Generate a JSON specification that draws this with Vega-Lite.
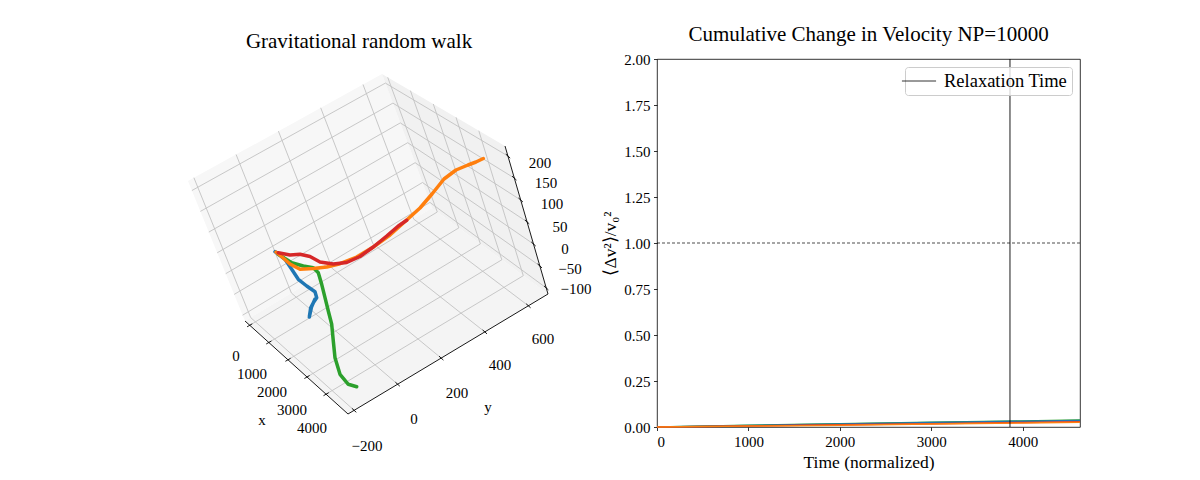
{
  "$schema": "https://vega.github.io/schema/vega-lite/v6.json",
  "background": "white",
  "padding": {"left": 120, "top": 23, "right": 0, "bottom": 0},
  "spacing": 3,
  "config": {
    "font": "Liberation Serif",
    "title": {"fontSize": 21, "fontWeight": "normal", "color": "black", "offset": 7, "frame": "group", "anchor": "middle"},
    "axis": {
      "labelFontSize": 15, "titleFontSize": 17.5, "titleFontWeight": "normal",
      "labelColor": "black", "titleColor": "black", "tickColor": "black",
      "tickSize": 3.5, "tickWidth": 0.8, "grid": false, "domain": false,
      "labelPadding": 3.5, "titlePadding": 4
    },
    "legend": {
      "orient": "top-right", "offset": 8, "padding": 4, "cornerRadius": 3,
      "fillColor": "rgba(255,255,255,0.8)", "strokeColor": "#cccccc",
      "labelFontSize": 18.5, "labelColor": "black", "labelOffset": 15,
      "symbolType": "M-1.8,0H1.8", "symbolSize": 360, "symbolStrokeWidth": 0.8
    }
  },
  "datasets": {
    "panes": [
      {"pane": "left", "sx": 188, "sy": 180, "sy2": 180},
      {"pane": "left", "sx": 245, "sy": 148.6, "sy2": 320},
      {"pane": "left", "sx": 382, "sy": 73, "sy2": 237.2},
      {"pane": "left", "sx": 432, "sy": 207, "sy2": 207},
      {"pane": "floor", "sx": 245, "sy": 320, "sy2": 320},
      {"pane": "floor", "sx": 348, "sy": 257.8, "sy2": 413},
      {"pane": "floor", "sx": 432, "sy": 207, "sy2": 362.6},
      {"pane": "floor", "sx": 548, "sy": 293, "sy2": 293},
      {"pane": "right", "sx": 382, "sy": 73, "sy2": 73},
      {"pane": "right", "sx": 432, "sy": 102.3, "sy2": 207},
      {"pane": "right", "sx": 505, "sy": 145, "sy2": 261.1},
      {"pane": "right", "sx": 548, "sy": 293, "sy2": 293}
    ],
    "grid": [
      {"sx": 249.7, "sy": 324.3, "sx2": 437.3, "sy2": 211.0},
      {"sx": 268.8, "sy": 341.5, "sx2": 458.8, "sy2": 226.9},
      {"sx": 288.0, "sy": 358.8, "sx2": 480.4, "sy2": 242.9},
      {"sx": 307.0, "sy": 376.0, "sx2": 501.8, "sy2": 258.8},
      {"sx": 326.1, "sy": 393.2, "sx2": 523.3, "sy2": 274.7},
      {"sx": 250.7, "sy": 316.6, "sx2": 354.1, "sy2": 409.3},
      {"sx": 291.4, "sy": 292.0, "sx2": 397.6, "sy2": 383.2},
      {"sx": 332.1, "sy": 267.3, "sx2": 441.2, "sy2": 357.1},
      {"sx": 372.9, "sy": 242.7, "sx2": 484.8, "sy2": 330.9},
      {"sx": 413.7, "sy": 218.1, "sx2": 528.4, "sy2": 304.8},
      {"sx": 250.7, "sy": 316.6, "sx2": 193.9, "sy2": 176.7},
      {"sx": 291.4, "sy": 292.0, "sx2": 236.1, "sy2": 153.5},
      {"sx": 332.1, "sy": 267.3, "sx2": 278.4, "sy2": 130.1},
      {"sx": 372.9, "sy": 242.7, "sx2": 320.7, "sy2": 106.8},
      {"sx": 413.7, "sy": 218.1, "sx2": 363.0, "sy2": 83.5},
      {"sx": 242.6, "sy": 314.2, "sx2": 429.9, "sy2": 201.4},
      {"sx": 234.2, "sy": 293.4, "sx2": 422.5, "sy2": 181.5},
      {"sx": 225.7, "sy": 272.7, "sx2": 415.1, "sy2": 161.7},
      {"sx": 217.2, "sy": 251.8, "sx2": 407.7, "sy2": 141.7},
      {"sx": 208.8, "sy": 231.1, "sx2": 400.3, "sy2": 121.9},
      {"sx": 200.4, "sy": 210.4, "sx2": 392.9, "sy2": 102.1},
      {"sx": 191.9, "sy": 189.5, "sx2": 385.4, "sy2": 82.1},
      {"sx": 437.3, "sy": 211.0, "sx2": 387.7, "sy2": 76.3},
      {"sx": 458.8, "sy": 226.9, "sx2": 410.4, "sy2": 89.6},
      {"sx": 480.4, "sy": 242.9, "sx2": 433.3, "sy2": 103.0},
      {"sx": 501.8, "sy": 258.8, "sx2": 456.0, "sy2": 116.3},
      {"sx": 523.3, "sy": 274.7, "sx2": 478.8, "sy2": 129.7},
      {"sx": 429.9, "sy": 201.4, "sx2": 546.2, "sy2": 286.9},
      {"sx": 422.5, "sy": 181.5, "sx2": 539.8, "sy2": 264.9},
      {"sx": 415.1, "sy": 161.7, "sx2": 533.5, "sy2": 243.0},
      {"sx": 407.7, "sy": 141.7, "sx2": 527.1, "sy2": 220.9},
      {"sx": 400.3, "sy": 121.9, "sx2": 520.7, "sy2": 199.0},
      {"sx": 392.9, "sy": 102.1, "sx2": 514.3, "sy2": 177.1},
      {"sx": 385.4, "sy": 82.1, "sx2": 508.0, "sy2": 155.1}
    ],
    "axes3d": [
      {"sx": 245, "sy": 320, "sx2": 348, "sy2": 413},
      {"sx": 348, "sy": 413, "sx2": 548, "sy2": 293},
      {"sx": 548, "sy": 293, "sx2": 505, "sy2": 145},
      {"sx": 247.1, "sy": 325.8, "sx2": 252.3, "sy2": 322.8},
      {"sx": 266.2, "sy": 343.0, "sx2": 271.4, "sy2": 340.0},
      {"sx": 285.4, "sy": 360.3, "sx2": 290.6, "sy2": 357.3},
      {"sx": 304.4, "sy": 377.5, "sx2": 309.6, "sy2": 374.5},
      {"sx": 323.5, "sy": 394.7, "sx2": 328.7, "sy2": 391.7},
      {"sx": 351.9, "sy": 407.3, "sx2": 356.3, "sy2": 411.3},
      {"sx": 395.4, "sy": 381.2, "sx2": 399.8, "sy2": 385.2},
      {"sx": 439.0, "sy": 355.1, "sx2": 443.4, "sy2": 359.1},
      {"sx": 482.6, "sy": 328.9, "sx2": 487.0, "sy2": 332.9},
      {"sx": 526.2, "sy": 302.8, "sx2": 530.6, "sy2": 306.8},
      {"sx": 544.0, "sy": 284.9, "sx2": 548.4, "sy2": 288.9},
      {"sx": 537.6, "sy": 262.9, "sx2": 542.0, "sy2": 266.9},
      {"sx": 531.3, "sy": 241.0, "sx2": 535.7, "sy2": 245.0},
      {"sx": 524.9, "sy": 218.9, "sx2": 529.3, "sy2": 222.9},
      {"sx": 518.5, "sy": 197.0, "sx2": 522.9, "sy2": 201.0},
      {"sx": 512.1, "sy": 175.1, "sx2": 516.5, "sy2": 179.1},
      {"sx": 505.8, "sy": 153.1, "sx2": 510.2, "sy2": 157.1}
    ],
    "labels3d": [
      {"label": "0", "sx": 236, "sy": 355},
      {"label": "1000", "sx": 252, "sy": 373},
      {"label": "2000", "sx": 272, "sy": 391},
      {"label": "3000", "sx": 292, "sy": 409},
      {"label": "4000", "sx": 312, "sy": 427},
      {"label": "x", "sx": 262, "sy": 419},
      {"label": "−200", "sx": 367, "sy": 445},
      {"label": "0", "sx": 414, "sy": 418},
      {"label": "200", "sx": 457, "sy": 392},
      {"label": "400", "sx": 500, "sy": 364},
      {"label": "600", "sx": 543, "sy": 338},
      {"label": "y", "sx": 488, "sy": 406},
      {"label": "200", "sx": 540, "sy": 162},
      {"label": "150", "sx": 546, "sy": 182},
      {"label": "100", "sx": 552, "sy": 203},
      {"label": "50", "sx": 560, "sy": 226},
      {"label": "0", "sx": 565, "sy": 248},
      {"label": "−50", "sx": 570, "sy": 268},
      {"label": "−100", "sx": 576, "sy": 288}
    ],
    "walks": [
      {"walker": "blue", "i": 0, "sx": 275, "sy": 250.7},
      {"walker": "blue", "i": 1, "sx": 285, "sy": 258.3},
      {"walker": "blue", "i": 2, "sx": 291.7, "sy": 268.3},
      {"walker": "blue", "i": 3, "sx": 298.3, "sy": 278.3},
      {"walker": "blue", "i": 4, "sx": 306.7, "sy": 285},
      {"walker": "blue", "i": 5, "sx": 315, "sy": 290.7},
      {"walker": "blue", "i": 6, "sx": 316.7, "sy": 296.7},
      {"walker": "blue", "i": 7, "sx": 313.3, "sy": 301.7},
      {"walker": "blue", "i": 8, "sx": 310.7, "sy": 306.7},
      {"walker": "blue", "i": 9, "sx": 309.3, "sy": 316},
      {"walker": "blue", "i": 10, "sx": 311.5, "sy": 306},
      {"walker": "blue", "i": 11, "sx": 315, "sy": 298},
      {"walker": "green", "i": 0, "sx": 278, "sy": 253},
      {"walker": "green", "i": 1, "sx": 291.7, "sy": 261.7},
      {"walker": "green", "i": 2, "sx": 303.3, "sy": 265},
      {"walker": "green", "i": 3, "sx": 313.3, "sy": 266.7},
      {"walker": "green", "i": 4, "sx": 318.3, "sy": 271.7},
      {"walker": "green", "i": 5, "sx": 321.7, "sy": 283.3},
      {"walker": "green", "i": 6, "sx": 325, "sy": 296.7},
      {"walker": "green", "i": 7, "sx": 328.3, "sy": 310},
      {"walker": "green", "i": 8, "sx": 331.7, "sy": 323.3},
      {"walker": "green", "i": 9, "sx": 333.3, "sy": 340},
      {"walker": "green", "i": 10, "sx": 335, "sy": 356.7},
      {"walker": "green", "i": 11, "sx": 340, "sy": 373.3},
      {"walker": "green", "i": 12, "sx": 348.3, "sy": 383.3},
      {"walker": "green", "i": 13, "sx": 356.7, "sy": 385.7},
      {"walker": "orange", "i": 0, "sx": 276, "sy": 251},
      {"walker": "orange", "i": 1, "sx": 282, "sy": 256},
      {"walker": "orange", "i": 2, "sx": 290, "sy": 263},
      {"walker": "orange", "i": 3, "sx": 300, "sy": 268.3},
      {"walker": "orange", "i": 4, "sx": 313.3, "sy": 267.5},
      {"walker": "orange", "i": 5, "sx": 326.7, "sy": 266},
      {"walker": "orange", "i": 6, "sx": 340, "sy": 262.7},
      {"walker": "orange", "i": 7, "sx": 356.7, "sy": 256},
      {"walker": "orange", "i": 8, "sx": 373.3, "sy": 246},
      {"walker": "orange", "i": 9, "sx": 390, "sy": 234},
      {"walker": "orange", "i": 10, "sx": 406.7, "sy": 219},
      {"walker": "orange", "i": 11, "sx": 420, "sy": 207},
      {"walker": "orange", "i": 12, "sx": 432, "sy": 193},
      {"walker": "orange", "i": 13, "sx": 444, "sy": 178},
      {"walker": "orange", "i": 14, "sx": 456, "sy": 169},
      {"walker": "orange", "i": 15, "sx": 468, "sy": 164},
      {"walker": "orange", "i": 16, "sx": 476, "sy": 161},
      {"walker": "orange", "i": 17, "sx": 483.3, "sy": 157.5},
      {"walker": "red", "i": 0, "sx": 278.3, "sy": 251.7},
      {"walker": "red", "i": 1, "sx": 290, "sy": 254},
      {"walker": "red", "i": 2, "sx": 300, "sy": 253.3},
      {"walker": "red", "i": 3, "sx": 310, "sy": 255.5},
      {"walker": "red", "i": 4, "sx": 320, "sy": 261},
      {"walker": "red", "i": 5, "sx": 333.3, "sy": 263},
      {"walker": "red", "i": 6, "sx": 346.7, "sy": 261.5},
      {"walker": "red", "i": 7, "sx": 360, "sy": 255.5},
      {"walker": "red", "i": 8, "sx": 373.3, "sy": 246},
      {"walker": "red", "i": 9, "sx": 386.7, "sy": 235},
      {"walker": "red", "i": 10, "sx": 398.3, "sy": 225},
      {"walker": "red", "i": 11, "sx": 406.7, "sy": 219.3}
    ],
    "vel": [
      {"walker": "green", "t": 0, "dv": 0},
      {"walker": "green", "t": 1000, "dv": 0.009},
      {"walker": "green", "t": 2000, "dv": 0.018},
      {"walker": "green", "t": 3000, "dv": 0.026},
      {"walker": "green", "t": 4000, "dv": 0.033},
      {"walker": "green", "t": 4627, "dv": 0.038},
      {"walker": "blue", "t": 0, "dv": 0},
      {"walker": "blue", "t": 1000, "dv": 0.008},
      {"walker": "blue", "t": 2000, "dv": 0.016},
      {"walker": "blue", "t": 3000, "dv": 0.024},
      {"walker": "blue", "t": 4000, "dv": 0.031},
      {"walker": "blue", "t": 4627, "dv": 0.036},
      {"walker": "red", "t": 0, "dv": 0},
      {"walker": "red", "t": 1000, "dv": 0.006},
      {"walker": "red", "t": 2000, "dv": 0.012},
      {"walker": "red", "t": 3000, "dv": 0.018},
      {"walker": "red", "t": 4000, "dv": 0.025},
      {"walker": "red", "t": 4627, "dv": 0.029},
      {"walker": "orange", "t": 0, "dv": 0},
      {"walker": "orange", "t": 1000, "dv": 0.005},
      {"walker": "orange", "t": 2000, "dv": 0.010},
      {"walker": "orange", "t": 3000, "dv": 0.016},
      {"walker": "orange", "t": 4000, "dv": 0.022},
      {"walker": "orange", "t": 4627, "dv": 0.026}
    ]
  },
  "hconcat": [
    {
      "title": "Gravitational random walk",
      "width": 478,
      "height": 400,
      "view": {"stroke": null},
      "layer": [
        {
          "data": {"name": "panes"},
          "mark": {"type": "area", "orient": "vertical"},
          "encoding": {
            "x": {"field": "sx", "type": "quantitative", "scale": {"domain": [120, 598], "nice": false, "zero": false}, "axis": null},
            "y": {"field": "sy", "type": "quantitative", "stack": null, "scale": {"domain": [58, 458], "nice": false, "zero": false, "reverse": true}, "axis": null},
            "y2": {"field": "sy2"},
            "fill": {"field": "pane", "type": "nominal", "scale": {"domain": ["floor", "left", "right"], "range": ["#f4f4f4", "#f7f7f7", "#f1f1f1"]}, "legend": null}
          }
        },
        {
          "data": {"name": "grid"},
          "mark": {"type": "rule", "color": "#c2c2c2", "strokeWidth": 0.9},
          "encoding": {
            "x": {"field": "sx", "type": "quantitative", "scale": {"domain": [120, 598], "nice": false, "zero": false}, "axis": null},
            "y": {"field": "sy", "type": "quantitative", "scale": {"domain": [58, 458], "nice": false, "zero": false, "reverse": true}, "axis": null},
            "x2": {"field": "sx2"},
            "y2": {"field": "sy2"}
          }
        },
        {
          "data": {"name": "axes3d"},
          "mark": {"type": "rule", "color": "black", "strokeWidth": 0.9},
          "encoding": {
            "x": {"field": "sx", "type": "quantitative", "scale": {"domain": [120, 598], "nice": false, "zero": false}, "axis": null},
            "y": {"field": "sy", "type": "quantitative", "scale": {"domain": [58, 458], "nice": false, "zero": false, "reverse": true}, "axis": null},
            "x2": {"field": "sx2"},
            "y2": {"field": "sy2"}
          }
        },
        {
          "data": {"name": "walks"},
          "mark": {"type": "line", "strokeWidth": 3.5, "strokeCap": "round", "strokeJoin": "round"},
          "encoding": {
            "x": {"field": "sx", "type": "quantitative", "scale": {"domain": [120, 598], "nice": false, "zero": false}, "axis": null},
            "y": {"field": "sy", "type": "quantitative", "scale": {"domain": [58, 458], "nice": false, "zero": false, "reverse": true}, "axis": null},
            "color": {"field": "walker", "type": "nominal", "scale": {"domain": ["blue", "green", "orange", "red"], "range": ["#1f77b4", "#2ca02c", "#ff7f0e", "#d62728"]}, "legend": null},
            "order": {"field": "i", "type": "quantitative"}
          }
        },
        {
          "data": {"name": "labels3d"},
          "mark": {"type": "text", "fontSize": 15, "align": "center", "baseline": "middle", "color": "black"},
          "encoding": {
            "x": {"field": "sx", "type": "quantitative", "scale": {"domain": [120, 598], "nice": false, "zero": false}, "axis": null},
            "y": {"field": "sy", "type": "quantitative", "scale": {"domain": [58, 458], "nice": false, "zero": false, "reverse": true}, "axis": null},
            "text": {"field": "label", "type": "nominal"}
          }
        }
      ]
    },
    {
      "title": "Cumulative Change in Velocity NP=10000",
      "width": 423,
      "height": 368,
      "view": {"stroke": "black", "strokeWidth": 0.8},
      "layer": [
        {
          "data": {"name": "vel"},
          "mark": {"type": "line", "strokeWidth": 1.5},
          "encoding": {
            "x": {"field": "t", "type": "quantitative", "scale": {"domain": [0, 4627], "nice": false}, "axis": {"values": [0, 1000, 2000, 3000, 4000], "format": "d", "title": "Time (normalized)"}},
            "y": {"field": "dv", "type": "quantitative", "scale": {"domain": [0, 2], "nice": false}, "axis": {"values": [0, 0.25, 0.5, 0.75, 1, 1.25, 1.5, 1.75, 2], "format": ".2f", "title": "⟨Δv²⟩/v₀²"}},
            "stroke": {"field": "walker", "type": "nominal", "scale": {"domain": ["blue", "orange", "green", "red"], "range": ["#1f77b4", "#ff7f0e", "#2ca02c", "#d62728"]}, "legend": null}
          }
        },
        {
          "data": {"values": [{"level": 1}]},
          "mark": {"type": "rule", "color": "black", "strokeWidth": 0.7, "strokeDash": [3, 2]},
          "encoding": {
            "y": {"field": "level", "type": "quantitative"}
          }
        },
        {
          "data": {"values": [{"t": 3861, "name": "Relaxation Time"}]},
          "mark": {"type": "rule", "strokeWidth": 0.9},
          "encoding": {
            "x": {"field": "t", "type": "quantitative"},
            "color": {"field": "name", "type": "nominal", "scale": {"range": ["black"]}, "legend": {"title": null}}
          }
        }
      ]
    }
  ],
  "resolve": {"scale": {"x": "independent", "y": "independent", "color": "independent", "fill": "independent", "stroke": "independent"}}
}
